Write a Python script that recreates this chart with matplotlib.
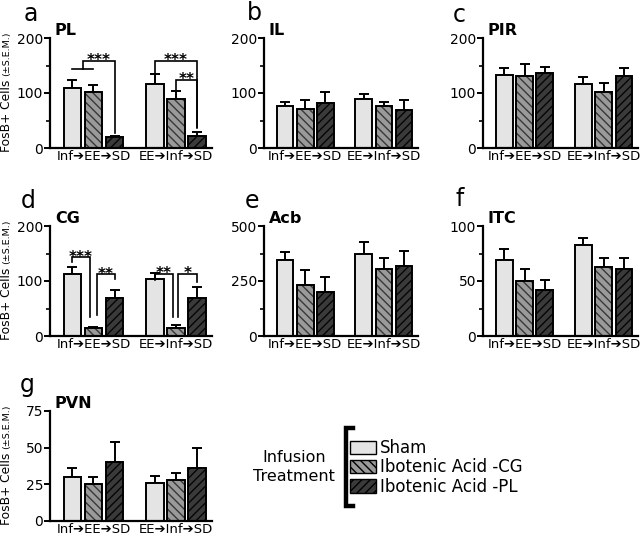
import matplotlib
matplotlib.use('Agg')
import matplotlib.pyplot as plt
from matplotlib.lines import Line2D
from matplotlib.patches import Patch

# ---------------- data ----------------
groups = ["Inf\u2794EE\u2794SD", "EE\u2794Inf\u2794SD"]
treatments = ["Sham", "Ibotenic Acid -CG", "Ibotenic Acid -PL"]
regions = ["PL", "IL", "PIR", "CG", "Acb", "ITC", "PVN"]
letters = ["a", "b", "c", "d", "e", "f", "g"]

# means [group][treatment], sem [group][treatment]
pl_mean = [[109, 101, 20], [117, 90, 22]]
pl_sem = [[14, 13, 2], [18, 13, 8]]
il_mean = [[77, 71, 81], [89, 77, 70]]
il_sem = [[7, 16, 20], [9, 6, 17]]
pir_mean = [[133, 131, 136], [117, 101, 131]]
pir_sem = [[13, 22, 11], [12, 18, 15]]
cg_mean = [[112, 14, 69], [104, 15, 70]]
cg_sem = [[14, 3, 15], [10, 5, 20]]
acb_mean = [[344, 232, 200], [373, 304, 320]]
acb_sem = [[37, 69, 68], [54, 51, 67]]
itc_mean = [[69, 50, 42], [83, 63, 61]]
itc_sem = [[10, 11, 9], [6, 8, 10]]
pvn_mean = [[30, 25, 40], [26, 28, 36]]
pvn_sem = [[6, 5, 14], [5, 5, 14]]

means = [pl_mean, il_mean, pir_mean, cg_mean, acb_mean, itc_mean, pvn_mean]
sems = [pl_sem, il_sem, pir_sem, cg_sem, acb_sem, itc_sem, pvn_sem]

ymax = [200, 200, 200, 200, 500, 100, 75]
major_ticks = [[0, 100, 200]] * 4 + [[0, 250, 500], [0, 50, 100], [0, 25, 50, 75]]
minor_ticks = [[50, 150]] * 4 + [[125, 375], [25, 75], []]

# significance brackets: (panel, (group, x_left), (group, x_right), y_top, y_left_end, y_right_end, label)
sig_brackets = [
    (0, (0, 0.5), (0, 2), 158, 144, 27, "***"),
    (0, (1, 0), (1, 2), 158, 136, 36, "***"),
    (0, (1, 1), (1, 2), 124, 106, 39, "**"),
    (3, (0, 0), (0, 0.82), 143, 135, 35, "***"),
    (3, (0, 1.15), (0, 2), 112, 38, 103, "**"),
    (3, (1, 0), (1, 0.85), 113, 102, 35, "**"),
    (3, (1, 1.1), (1, 2), 113, 35, 99, "*"),
]
# horizontal spans joining bars under a bracket end: (panel, group, t1, t2, y)
sig_spans = [(0, 0, 0, 1, 144)]

# ---------------- style ----------------
W, H = 640, 535
fig = plt.figure(figsize=(6.4, 5.35), dpi=100)
plt.rcParams['font.family'] = 'DejaVu Sans'
plt.rcParams['hatch.linewidth'] = 1.0

face = ['#e4e4e4', '#9a9a9a', '#3a3a3a']
hatch_col = ['none', '#383838', '#050505']
hatches = [None, '\\\\\\\\', '////']
GROUP_SHIFT = 3.9
BAR_W = 0.82

def px_axes(left, top, width, height):
    return fig.add_axes([left / W, 1 - (top + height) / H, width / W, height / H])

col_left = [50, 264, 483]
col_w = [162, 154, 155]
row_top = [38, 226, 411]
AX_H = 110

def xpos(g, t):
    return g * GROUP_SHIFT + t

axes = []
for i in range(7):
    r, c = divmod(i, 3)
    ax = px_axes(col_left[c], row_top[r], col_w[c], AX_H)
    axes.append(ax)
    for g in range(2):
        for t in range(3):
            x = xpos(g, t)
            m = means[i][g][t]
            s = sems[i][g][t]
            if hatches[t]:
                ax.bar(x, m, width=BAR_W, color=face[t], edgecolor=hatch_col[t],
                       hatch=hatches[t], linewidth=0, zorder=2)
            else:
                ax.bar(x, m, width=BAR_W, color=face[t], linewidth=0, zorder=2)
            ax.bar(x, m, width=BAR_W, color='none', edgecolor='black',
                   linewidth=1.4, zorder=3)
            ax.errorbar(x, m, yerr=[[0], [s]], fmt='none', ecolor='black',
                        elinewidth=1.4, capsize=3.6, capthick=1.4, zorder=1)
    ax.set_xlim(-1.05, 6.6)
    ax.set_ylim(0, ymax[i])
    ax.set_yticks(major_ticks[i])
    ax.set_yticks(minor_ticks[i], minor=True)
    ax.set_xticks([xpos(g, 1) for g in range(2)])
    ax.set_xticklabels(groups, fontsize=9.5)
    ax.tick_params(axis='x', length=0, pad=1.5)
    ax.tick_params(axis='y', which='major', length=4, width=1.4, labelsize=10, pad=1)
    ax.tick_params(axis='y', which='minor', length=3, width=1.2)
    for sp in ['top', 'right']:
        ax.spines[sp].set_visible(False)
    for sp in ['left', 'bottom']:
        ax.spines[sp].set_linewidth(1.6)
    ax.text(0.03, 1.07, regions[i], transform=ax.transAxes, fontsize=11.5,
            fontweight='bold', ha='left', va='center')
    if c == 0:
        ax.text(-0.27, -0.04, "FosB+ Cells", transform=ax.transAxes, rotation=90,
                fontsize=8.8, ha='center', va='bottom')
        ax.text(-0.27, 0.655, "(\u00b1S.E.M.)", transform=ax.transAxes, rotation=90,
                fontsize=6.8, ha='center', va='bottom')

# panel letters
letter_pos = [(31, 14), (254, 13), (459, 15), (28, 201), (252, 201), (460, 199), (27, 385)]
for (lx, ly), lt in zip(letter_pos, letters):
    fig.text(lx / W, 1 - ly / H, lt, fontsize=17, ha='center', va='center')

# significance
for (p, (g1, t1), (g2, t2), ytop, yl, yr, lab) in sig_brackets:
    ax = axes[p]
    x1, x2 = xpos(g1, t1), xpos(g2, t2)
    ax.plot([x1, x1, x2, x2], [yl, ytop, ytop, yr], color='black', lw=1.2,
            solid_joinstyle='miter', zorder=4)
    ax.annotate(lab, xy=((x1 + x2) / 2, ytop), xytext=(0, -3),
                textcoords='offset points', ha='center', va='baseline',
                fontsize=11, fontweight='bold', annotation_clip=False)
for (p, g, t1, t2, y) in sig_spans:
    axes[p].plot([xpos(g, t1), xpos(g, t2)], [y, y], color='black', lw=1.2, zorder=4)

# legend
handles = [Patch(facecolor=face[t], edgecolor='black', hatch=hatches[t], linewidth=1.0)
           for t in range(3)]
plt.rcParams['hatch.color'] = 'black'
fig.legend(handles, treatments, loc='upper left', bbox_to_anchor=(350 / W, 1 - 439 / H),
           frameon=False, fontsize=12, handlelength=1.55, handleheight=0.85,
           handletextpad=0.25, labelspacing=0.08, borderpad=0, borderaxespad=0)
fig.text(294 / W, 1 - 467 / H, "Infusion\nTreatment", fontsize=11.5, ha='center',
         va='center', multialignment='center', linespacing=1.3)
bx, btop, bbot = 346, 428, 506
fig.add_artist(Line2D([(bx + 7) / W, bx / W, bx / W, (bx + 7) / W],
                      [1 - btop / H, 1 - btop / H, 1 - bbot / H, 1 - bbot / H],
                      color='black', lw=3.2, solid_joinstyle='miter'))

fig.savefig('out.png', dpi=100)
